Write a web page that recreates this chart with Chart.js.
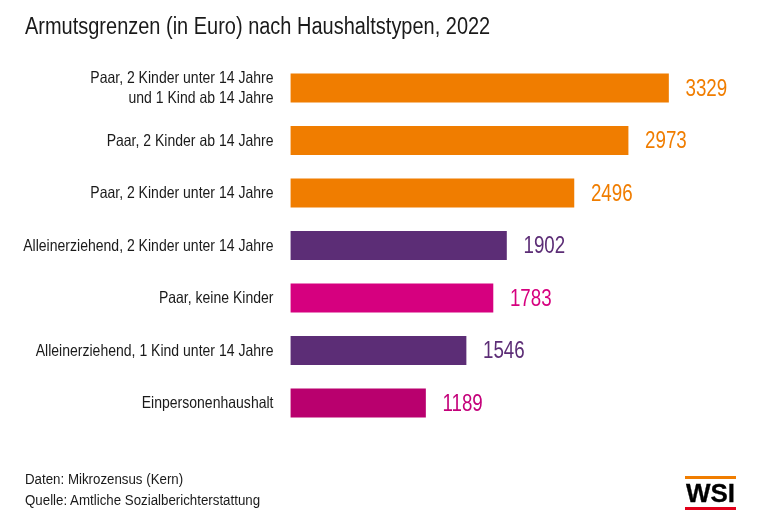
<!DOCTYPE html>
<html><head><meta charset="utf-8">
<script src="https://cdn.jsdelivr.net/npm/chart.js@4/dist/chart.umd.min.js"></script>
<style>
html,body{margin:0;padding:0;background:#fff;width:768px;height:528px;overflow:hidden}
#wrap{position:relative;width:768px;height:528px}
canvas{position:absolute;left:0;top:0}
.t{position:absolute;font-family:"Liberation Sans",sans-serif;color:#1a1a1a;white-space:nowrap;transform-origin:0 0}
#title{left:25px;top:11px;font-size:23.5px;line-height:30px;transform:scaleX(.85)}
#foot{left:25px;top:468px;font-size:15.5px;line-height:21px;transform:scaleX(.858)}
#l1{position:absolute;left:685px;top:476px;width:51px;height:3px;background:#f07d00}
#l2{position:absolute;left:685px;top:507px;width:51px;height:3px;background:#e2001a}
#wsi{position:absolute;left:685px;top:481px;width:51px;text-align:center;font:bold 25px/25px "Liberation Sans",sans-serif;color:#000;transform:scaleX(1.04);-webkit-text-stroke:.3px #000}
</style></head><body>
<div id="wrap">
<canvas id="c" width="768" height="528"></canvas>
<div class="t" id="title">Armutsgrenzen (in Euro) nach Haushaltstypen, 2022</div>
<div class="t" id="foot">Daten: Mikrozensus (Kern)<br>Quelle: Amtliche Sozialberichterstattung</div>
<div id="l1"></div><div id="wsi">WSI</div><div id="l2"></div>
</div>
<script>
const categories = [
  ["Paar, 2 Kinder unter 14 Jahre","und 1 Kind ab 14 Jahre"],
  "Paar, 2 Kinder ab 14 Jahre",
  "Paar, 2 Kinder unter 14 Jahre",
  "Alleinerziehend, 2 Kinder unter 14 Jahre",
  "Paar, keine Kinder",
  "Alleinerziehend, 1 Kind unter 14 Jahre",
  "Einpersonenhaushalt"
];
const values = [3329,2973,2496,1902,1783,1546,1189];
const barColors = ["#f07d00","#f07d00","#f07d00","#5c2d76","#d6007f","#5c2d76","#b9006e"];
const labelColors = ["#f07d00","#f07d00","#f07d00","#5c2d76","#d6007f","#5c2d76","#c4007a"];
const FONT = '"Liberation Sans",sans-serif';
function narrowText(ctx,text,x,y,sx){
  ctx.save();
  ctx.translate(x,y);
  ctx.scale(sx,1);
  ctx.fillText(text,0,0);
  ctx.restore();
}
const condensedText = {
  id:'condensedText',
  afterDatasetsDraw(chart){
    const {ctx} = chart;
    const meta = chart.getDatasetMeta(0);
    const yScale = chart.scales.y;
    ctx.save();
    ctx.textBaseline='middle';
    ctx.font = '24px '+FONT;
    ctx.textAlign='left';
    meta.data.forEach((el,i)=>{
      ctx.fillStyle = labelColors[i];
      narrowText(ctx,String(values[i]),el.x+17,el.y+1,.78);
    });
    ctx.font = '16.5px '+FONT;
    ctx.textAlign='right';
    ctx.fillStyle='#1a1a1a';
    categories.forEach((lab,i)=>{
      const lines = Array.isArray(lab)?lab:[lab];
      const c = yScale.getPixelForTick(i)+0.5;
      lines.forEach((ln,j)=>{
        narrowText(ctx,ln,273.5,c+(j-(lines.length-1)/2)*19.5,.85);
      });
    });
    ctx.restore();
  }
};
new Chart(document.getElementById('c'),{
  type:'bar',
  data:{labels:categories,datasets:[{data:values,backgroundColor:barColors,barThickness:28.5,borderWidth:0}]},
  options:{
    indexAxis:'y',responsive:false,animation:false,devicePixelRatio:1,
    layout:{padding:{left:0,right:23.3,top:61.75,bottom:98.75}},
    plugins:{legend:{display:false},tooltip:{enabled:false},title:{display:false}},
    scales:{
      x:{display:false,min:0,max:4000},
      y:{
        afterFit(s){s.width=290.5;},
        grid:{display:false},border:{display:false},
        ticks:{display:false,autoSkip:false}
      }
    }
  },
  plugins:[condensedText]
});
</script>
</body></html>
